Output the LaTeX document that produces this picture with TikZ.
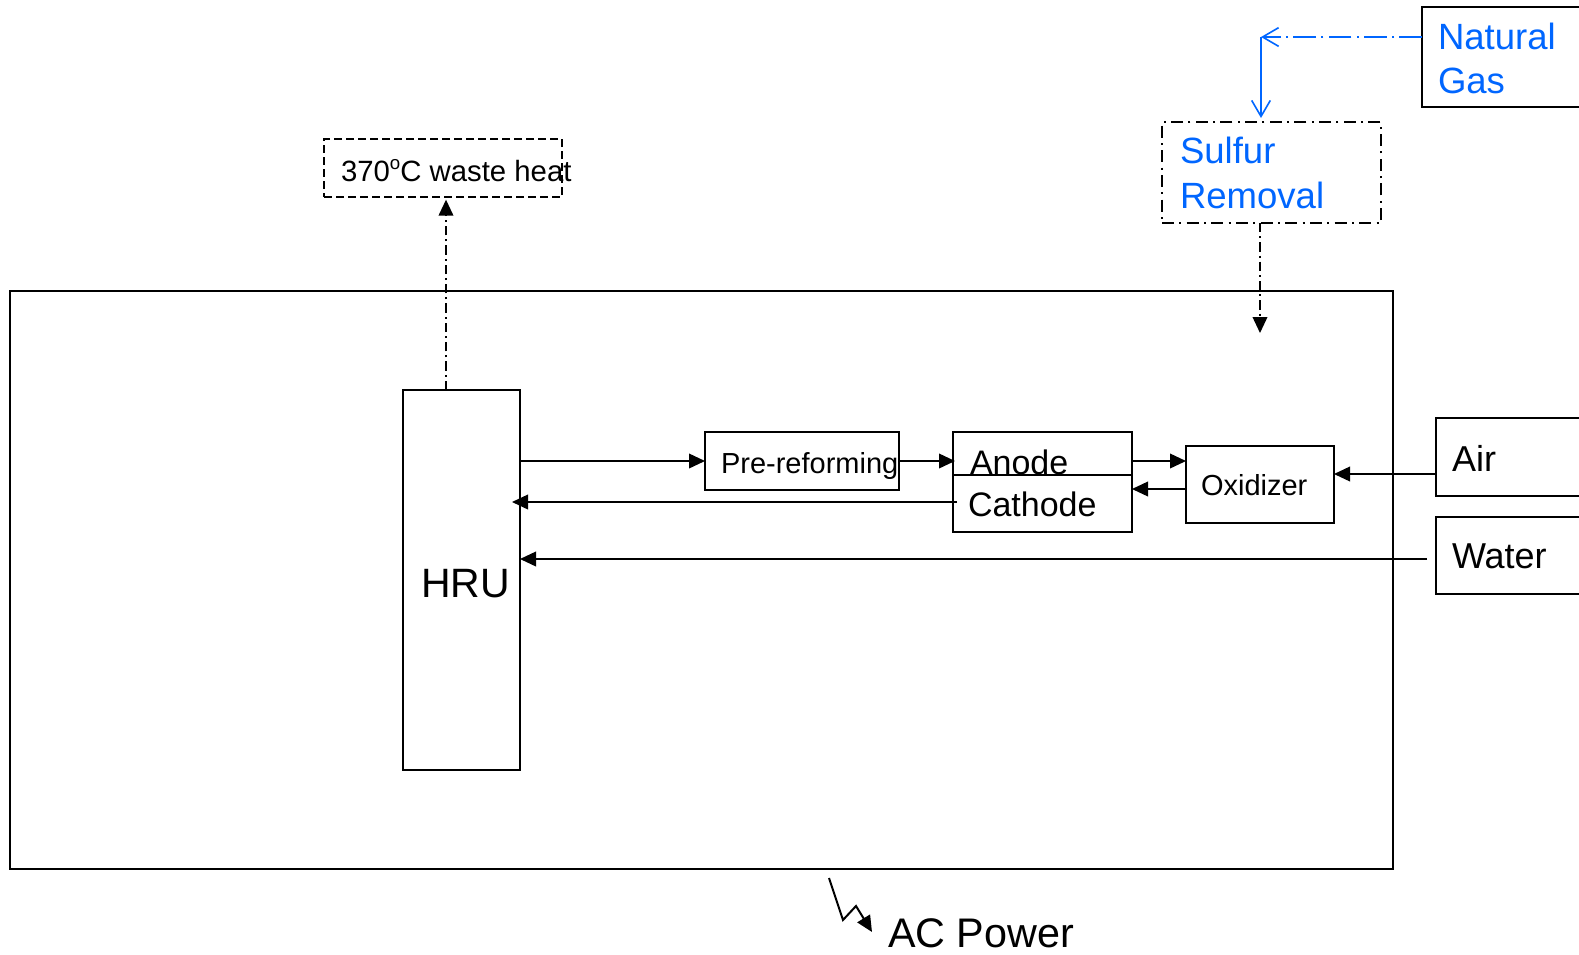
\documentclass[tikz,border=0pt]{standalone}
\usepackage{fontspec}
\setmainfont{Liberation Sans}
\usetikzlibrary{arrows.meta,fit}
\definecolor{ngblue}{RGB}{0,102,255}
\newcommand{\fsz}[1]{\fontsize{#1}{#1}\selectfont}
\newcommand{\degsup}{\raisebox{9pt}{\fontsize{14pt}{14pt}\selectfont o}}
\begin{document}
\begin{tikzpicture}[x=0.75pt,y=-0.75pt,
  box/.style={draw, line width=1.3pt, inner sep=0pt, outer sep=0pt, rectangle},
  lbl/.style={anchor=base west, inner sep=0pt, outer sep=0pt},
  arr/.style={line width=1.2pt, -{Triangle[length=12pt,width=11pt]}},
  dashdotline/.style={dash pattern=on 7pt off 3pt on 1.5pt off 3pt},
  ngline/.style={dash pattern=on 17pt off 4pt on 1.5pt off 4pt},
  openhead/.style={-{Straight Barb[length=12pt,width=14pt]}}]
\clip (0,0) rectangle (1579,954);
\fill[white] (0,0) rectangle (1579,954);
% boxes
\node[box, line width=2.1pt, fit={(10,291) (1393,869)}] (sys) {};
\node[box, fit={(403,390) (520,770)}] (hru) {};
\node[box, dashed, dash pattern=on 6pt off 3pt, fit={(324,139) (562,197)}] (waste) {};
\node[box, line width=1.6pt, dash pattern=on 9pt off 4pt on 1.5pt off 4pt, fit={(1162,122) (1381,223)}] (sulf) {};
\node[box, line width=1.6pt, fit={(1422,7) (1620,107)}] (ng) {};
\node[box, fit={(705,432) (899,490)}] (pre) {};
\node[box, fit={(953,432) (1132,475)}] (an) {};
\node[box, fit={(953,475) (1132,532)}] (cat) {};
\node[box, fit={(1186,446) (1334,523)}] (ox) {};
\node[box, fit={(1436,418) (1620,496)}] (air) {};
\node[box, fit={(1436,517) (1620,594)}] (water) {};
% texts
\node[lbl, font=\fsz{22pt}] (twaste) at (341,181) {370\degsup C waste heat};
\node[lbl, font=\fsz{30.75pt}] (thru) at (421,597) {HRU};
\node[lbl, font=\fsz{21.75pt}] (tpre) at (721,473) {Pre-reforming};
\node[lbl, font=\fsz{25.5pt}] (tan) at (970,474) {Anode};
\node[lbl, font=\fsz{25.5pt}] (tcat) at (968,516) {Cathode};
\node[lbl, font=\fsz{21.75pt}] (tox) at (1201,495) {Oxidizer};
\node[lbl, font=\fsz{27pt}] (tair) at (1452,471) {Air};
\node[lbl, font=\fsz{27pt}] (twater) at (1452,568) {Water};
\node[lbl, font=\fsz{27.4pt}, text=ngblue] (tsulf1) at (1180,163) {Sulfur};
\node[lbl, font=\fsz{27.4pt}, text=ngblue] (tsulf2) at (1180,208) {Removal};
\node[lbl, font=\fsz{27.4pt}, text=ngblue] (tng1) at (1438,49) {Natural};
\node[lbl, font=\fsz{27.4pt}, text=ngblue] (tng2) at (1438,93) {Gas};
\node[lbl, font=\fsz{31pt}] (tac) at (888,947) {AC Power};
% helper coordinates
\coordinate (y461) at (0,461);
\coordinate (y474) at (0,474);
\coordinate (y489) at (0,489);
\coordinate (y502) at (0,502);
\coordinate (y559) at (0,559);
\coordinate (x446) at (446,0);
\coordinate (sin) at (1260,333);
\coordinate (ngc) at (1261,37);
\coordinate (acs) at (829,878);
\coordinate (ace) at (872,932);
% connectors
\draw[arr] (hru.east |- y461) -- (pre.west |- y461);
\draw[arr, shorten >=-1.5pt] (pre.east |- y461) -- (an.west |- y461);
\draw[arr] (an.east |- y461) -- (ox.west |- y461);
\draw[arr] (ox.west |- y489) -- (cat.east |- y489);
\draw[arr] (air.west |- y474) -- (ox.east |- y474);
\draw[arr, shorten <=-3pt, shorten >=-6pt] (cat.west |- y502) -- (hru.east |- y502);
\draw[arr, shorten <=6.75pt] (water.west |- y559) -- (hru.east |- y559);
\draw[arr, dashdotline, shorten >=2pt] (x446 |- hru.north) -- (x446 |- waste.south);
\draw[arr, dashdotline] (sulf.south -| sin) -- (sin);
\draw[ngblue, line width=1.2pt, ngline, openhead] (ng.west |- ngc) -- (ngc);
\draw[ngblue, line width=1.2pt, openhead, shorten >=3pt] (ngc) -- (ngc |- sulf.north);
\draw[arr, line width=1.5pt] (acs) -- (843,920) -- (856,906) -- (ace);
\end{tikzpicture}
\end{document}
